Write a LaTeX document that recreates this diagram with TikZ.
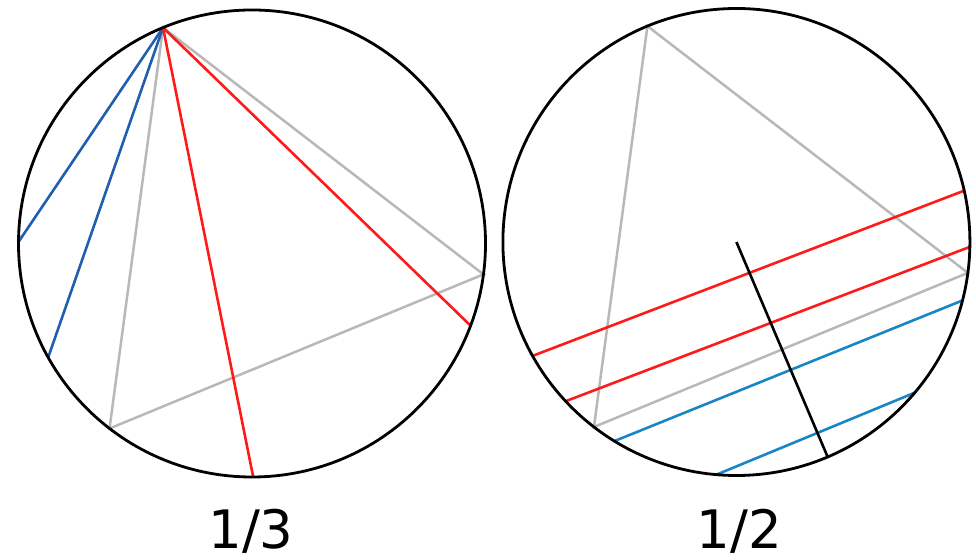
\documentclass[tikz,border=0pt]{standalone}
\usepackage{fontspec}
\setmainfont{DejaVu Sans}
\usetikzlibrary{calc}
\definecolor{trigray}{HTML}{B8B8B8}
\definecolor{redline}{HTML}{FF1A1A}
\definecolor{blueleft}{HTML}{1F5FAD}
\definecolor{blueright}{HTML}{1A85C6}
\tikzset{
  rim/.style={draw=black, line width=2.8pt},
  tri/.style={draw=trigray, line width=2.5pt},
  chordred/.style={draw=redline, line width=2.6pt},
  chordbl/.style={draw=blueleft, line width=2.6pt},
  chordbr/.style={draw=blueright, line width=2.6pt},
  radius line/.style={draw=black, line width=2.6pt},
  caption/.style={font=\fontsize{53}{60}\selectfont, anchor=base, inner sep=0pt}
}
\begin{document}
\begin{tikzpicture}[x=1pt,y=1pt]
\useasboundingbox (0,0) rectangle (976,559);
\def\R{233.5}
% ---------- left circle ----------
\coordinate (L) at (252,315.5);
\coordinate (LA) at ($(L)+(112.4:\R)$);
\coordinate (LB) at ($(L)+(232.4:\R)$);
\coordinate (LC) at ($(L)+(352.4:\R)$);
\coordinate (Lb1) at ($(L)+(179.6:\R)$);
\coordinate (Lb2) at ($(L)+(209.2:\R)$);
\coordinate (Lr1) at ($(L)+(270.3:\R)$);
\coordinate (Lr2) at ($(L)+(339.4:\R)$);
\draw[tri] (LA) -- (LB) -- (LC) -- cycle;
\draw[chordbl] (LA) -- (Lb1);
\draw[chordbl] (LA) -- (Lb2);
\draw[chordred] (LA) -- (Lr1);
\draw[chordred] (LA) -- (Lr2);
\draw[rim] (L) circle (\R);
% ---------- right circle ----------
\coordinate (M) at (736.4,317);
\coordinate (MA) at ($(M)+(112.4:\R)$);
\coordinate (MB) at ($(M)+(232.4:\R)$);
\coordinate (MC) at ($(M)+(352.4:\R)$);
\coordinate (Mr1a) at ($(M)+(209.2:\R)$);
\coordinate (Mr1b) at ($(M)+(12.7:\R)$);
\coordinate (Mr2a) at ($(M)+(223.0:\R)$);
\coordinate (Mr2b) at ($(M)+(-1.2:\R)$);
\coordinate (Mb1a) at ($(M)+(238.5:\R)$);
\coordinate (Mb1b) at ($(M)+(-14.5:\R)$);
\coordinate (Mb2a) at ($(M)+(265.1:\R)$);
\coordinate (Mb2b) at ($(M)+(-40.2:\R)$);
\coordinate (Mrad) at ($(M)+(-67.0:\R)$);
\draw[tri] (MA) -- (MB) -- (MC) -- cycle;
\draw[chordred] (Mr1a) -- (Mr1b);
\draw[chordred] (Mr2a) -- (Mr2b);
\draw[chordbr] (Mb1a) -- (Mb1b);
\draw[chordbr] (Mb2a) -- (Mb2b);
\draw[radius line] (M) -- (Mrad);
\draw[rim] (M) circle (\R);
% ---------- captions ----------
\node[caption] (cap1) at (251,10.5) {1/3};
\node[caption] (cap2) at (739.5,10.5) {1/2};
\end{tikzpicture}
\end{document}
